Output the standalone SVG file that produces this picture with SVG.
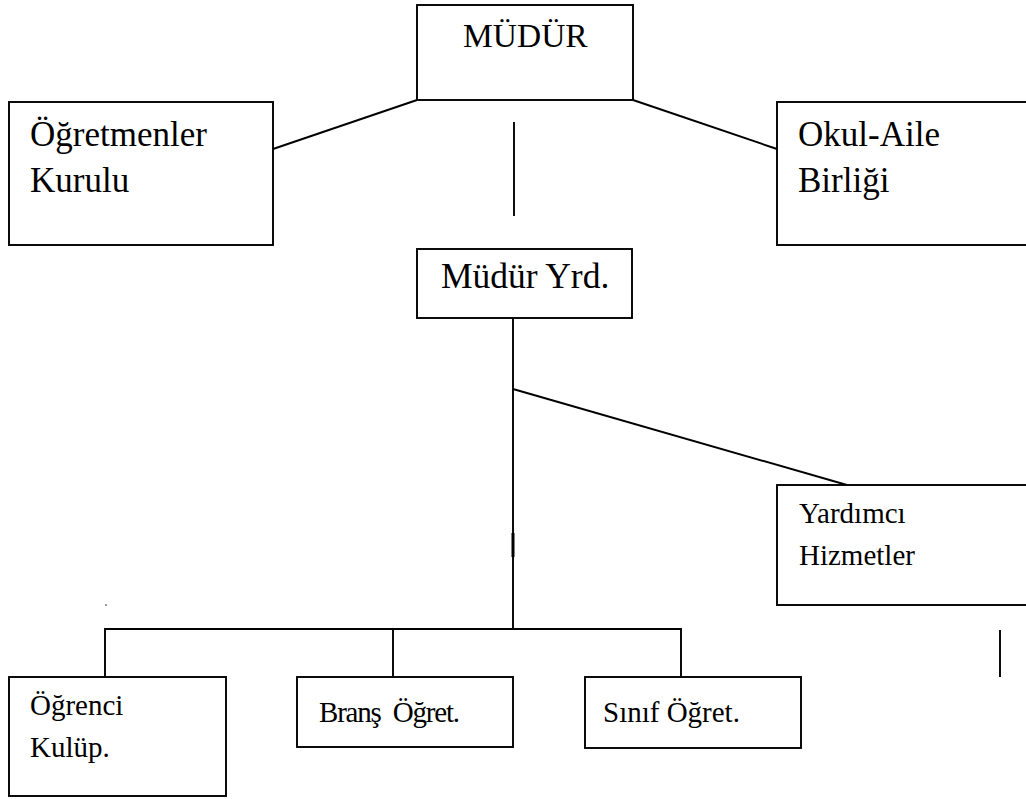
<svg xmlns="http://www.w3.org/2000/svg" width="1026" height="799" viewBox="0 0 1026 799">
<style>
.box{fill:#fff;stroke:#000;stroke-width:1.9}
.ln{stroke:#000;stroke-width:1.9;fill:none}
.tm{font-family:'Liberation Serif','Times New Roman',serif;font-size:33.5px;fill:#000}
.big{font-family:'Liberation Serif','Times New Roman',serif;font-size:35px;fill:#000}
.sm{font-family:'Liberation Serif','Times New Roman',serif;font-size:29px;fill:#000}
</style>
<rect width="1026" height="799" fill="#fff"/>
<g id="connectors">
<line class="ln" x1="417" y1="100" x2="273" y2="149"/>
<line class="ln" x1="633" y1="100" x2="777" y2="149"/>
<line class="ln" x1="514" y1="122" x2="514" y2="216"/>
<line class="ln" x1="513" y1="318" x2="513" y2="629"/>
<line x1="513" y1="533" x2="513" y2="557" stroke="#000" stroke-width="3"/>
<line class="ln" x1="513" y1="389" x2="847" y2="485"/>
<polyline class="ln" points="105,677 105,629 681,629 681,677"/>
<line class="ln" x1="393" y1="629" x2="393" y2="677"/>
<line class="ln" x1="1000" y1="630" x2="1000" y2="677"/>
<rect x="105" y="604" width="2" height="2" fill="#999"/>
</g>
<g id="mudur">
<rect class="box" x="417" y="5" width="216" height="95"/>
<text class="tm" x="463" y="47">MÜDÜR</text>
</g>
<g id="ogretmenler">
<rect class="box" x="9" y="102" width="264" height="143"/>
<text class="big" x="30" y="146">Öğretmenler</text>
<text class="big" x="30" y="192">Kurulu</text>
</g>
<g id="okulaile">
<rect class="box" x="777" y="102" width="260" height="143"/>
<text class="big" x="798" y="146">Okul-Aile</text>
<text class="big" x="798" y="192">Birliği</text>
</g>
<g id="mudur-yrd">
<rect class="box" x="417" y="249" width="215" height="69"/>
<text class="big" x="441" y="288" style="font-size:35.5px">Müdür Yrd.</text>
</g>
<g id="yardimci">
<rect class="box" x="777" y="485" width="260" height="120"/>
<text class="sm" x="799" y="523">Yardımcı</text>
<text class="sm" x="799" y="565">Hizmetler</text>
</g>
<g id="ogrenci">
<rect class="box" x="9" y="677" width="217" height="119"/>
<text class="sm" x="30" y="715">Öğrenci</text>
<text class="sm" x="30" y="757">Kulüp.</text>
</g>
<g id="brans">
<rect class="box" x="297" y="677" width="216" height="70"/>
<text class="sm" x="319" y="722" xml:space="preserve" textLength="141" lengthAdjust="spacing">Branş  Öğret.</text>
</g>
<g id="sinif">
<rect class="box" x="585" y="677" width="216" height="71"/>
<text class="sm" x="603" y="722">Sınıf Öğret.</text>
</g>
</svg>
